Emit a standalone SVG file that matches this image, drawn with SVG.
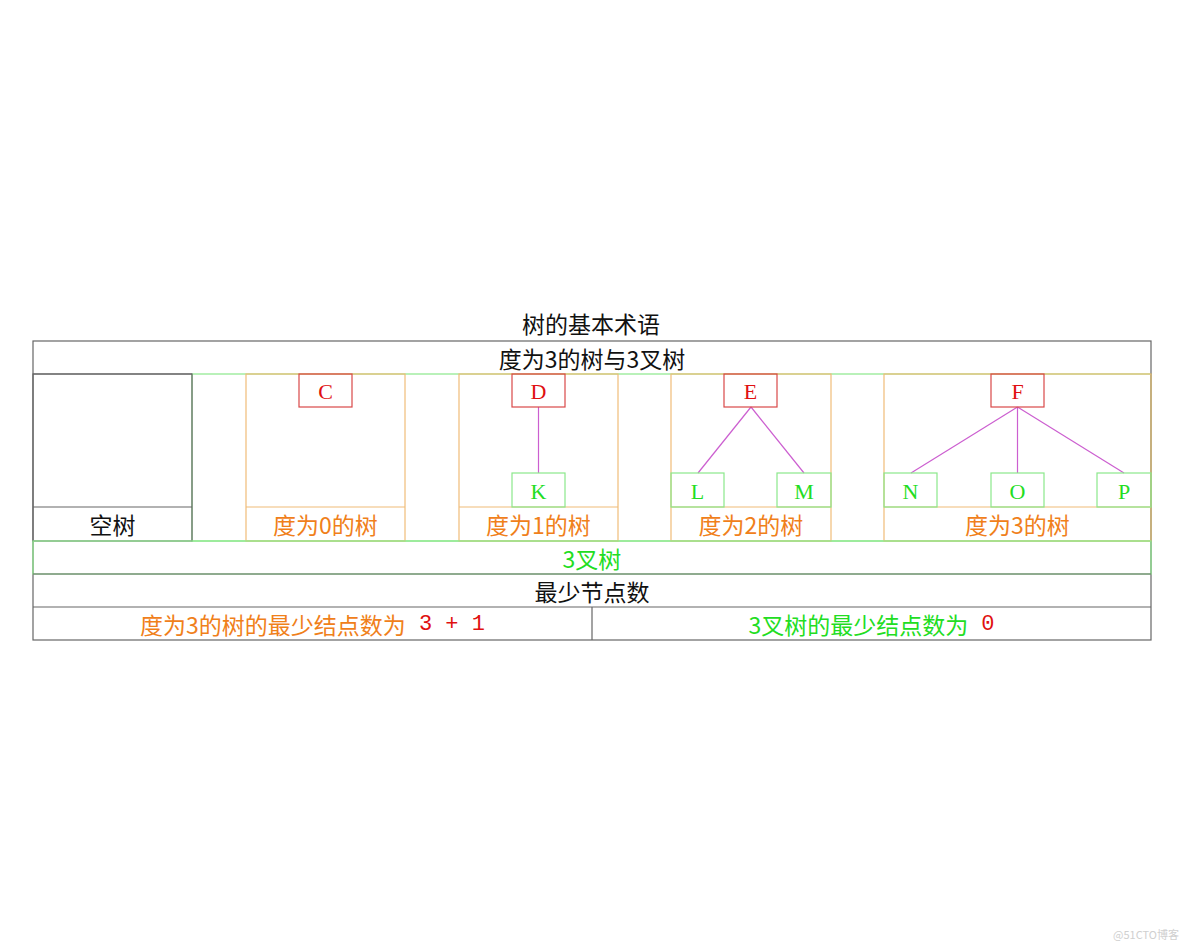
<svg xmlns="http://www.w3.org/2000/svg" width="1184" height="947" viewBox="0 0 1184 947">
<style>
text{font-family:"Noto Sans CJK SC","Liberation Sans",sans-serif;font-size:23px;text-anchor:middle;dominant-baseline:central}
.g{fill:none;stroke:#666;stroke-width:1.2}
.gr{fill:none;stroke:#8be88b;stroke-width:1.2}
.or{fill:none;stroke:#f0bc78;stroke-width:1.2}
.rd{fill:none;stroke:#d94848;stroke-width:1.2}
.ln{stroke:#cc5fd0;stroke-width:1.2}
.tb{fill:#111}
.to{fill:#f0801a}
.tg{fill:#22dd22}
.tr{fill:#e01010}
.lt{font-family:"Liberation Serif",serif;font-size:22px}
.mono{font-family:"Liberation Mono",monospace;font-size:22px}
</style>
<rect width="1184" height="947" fill="#fff"/>
<text id="title" class="tb" x="591" y="323">树的基本术语</text>
<g id="frame">
<rect class="gr" x="192" y="374" width="959" height="167"/>
<rect class="g" x="33" y="341" width="1118" height="299"/>
<line class="g" x1="33" y1="374" x2="192" y2="374"/>
<text class="tb" x="592" y="357.5">度为3的树与3叉树</text>
</g>
<g id="empty">
<rect class="g" x="33" y="374" width="159" height="167"/>
<line class="g" x1="33" y1="507" x2="192" y2="507"/>
<text class="tb" x="112.5" y="524">空树</text>
</g>
<g id="deg0">
<rect class="or" x="246" y="374" width="159" height="167"/>
<line class="or" x1="246" y1="507" x2="405" y2="507"/>
<text class="to" x="325.5" y="524">度为0的树</text>
</g>
<g id="deg1">
<rect class="or" x="459" y="374" width="159" height="167"/>
<line class="or" x1="459" y1="507" x2="618" y2="507"/>
<text class="to" x="538.5" y="524">度为1的树</text>
</g>
<g id="deg2">
<rect class="or" x="671" y="374" width="160" height="167"/>
<line class="or" x1="671" y1="507" x2="831" y2="507"/>
<text class="to" x="751" y="524">度为2的树</text>
</g>
<g id="deg3">
<rect class="or" x="884" y="374" width="267" height="167"/>
<line class="or" x1="884" y1="507" x2="1151" y2="507"/>
<text class="to" x="1017.5" y="524">度为3的树</text>
</g>
<g id="connectors">
<line class="ln" x1="538.5" y1="407" x2="538.5" y2="473"/>
<line class="ln" x1="751" y1="407" x2="698" y2="473"/>
<line class="ln" x1="751" y1="407" x2="804" y2="473"/>
<line class="ln" x1="1017.5" y1="407" x2="911" y2="473"/>
<line class="ln" x1="1017.5" y1="407" x2="1017.5" y2="473"/>
<line class="ln" x1="1017.5" y1="407" x2="1124" y2="473"/>
</g>
<g id="nodeC"><rect class="rd" x="299" y="374" width="53" height="33"/><text class="tr lt" x="325.5" y="391">C</text></g>
<g id="nodeD"><rect class="rd" x="512" y="374" width="53" height="33"/><text class="tr lt" x="538.5" y="391">D</text></g>
<g id="nodeE"><rect class="rd" x="724" y="374" width="53" height="33"/><text class="tr lt" x="750.5" y="391">E</text></g>
<g id="nodeF"><rect class="rd" x="991" y="374" width="53" height="33"/><text class="tr lt" x="1017.5" y="391">F</text></g>
<g id="nodeK"><rect class="gr" x="512" y="473" width="53" height="34"/><text class="tg lt" x="538.5" y="491">K</text></g>
<g id="nodeL"><rect class="gr" x="671" y="473" width="53" height="34"/><text class="tg lt" x="697.5" y="491">L</text></g>
<g id="nodeM"><rect class="gr" x="777" y="473" width="54" height="34"/><text class="tg lt" x="804" y="491">M</text></g>
<g id="nodeN"><rect class="gr" x="884" y="473" width="53" height="34"/><text class="tg lt" x="910.5" y="491">N</text></g>
<g id="nodeO"><rect class="gr" x="991" y="473" width="53" height="34"/><text class="tg lt" x="1017.5" y="491">O</text></g>
<g id="nodeP"><rect class="gr" x="1097" y="473" width="54" height="34"/><text class="tg lt" x="1124" y="491">P</text></g>
<g id="ternary">
<rect class="gr" x="33" y="541" width="1118" height="33"/>
<text class="tg" x="592" y="557.5">3叉树</text>
</g>
<g id="minimum">
<line class="g" x1="33" y1="574" x2="1151" y2="574"/>
<text class="tb" x="592" y="590.5">最少节点数</text>
<line class="g" x1="33" y1="607" x2="1151" y2="607"/>
<line class="g" x1="592" y1="607" x2="592" y2="640"/>
<text class="to" x="312.5" y="623.5">度为3的树的最少结点数为<tspan class="tr mono" xml:space="preserve"> 3 + 1</tspan></text>
<text class="tg" x="871.5" y="623.5">3叉树的最少结点数为<tspan class="tr mono" xml:space="preserve"> 0</tspan></text>
</g>
<text x="1146" y="934" style="font-size:11px;fill:#d0d0d0">@51CTO博客</text>
</svg>
